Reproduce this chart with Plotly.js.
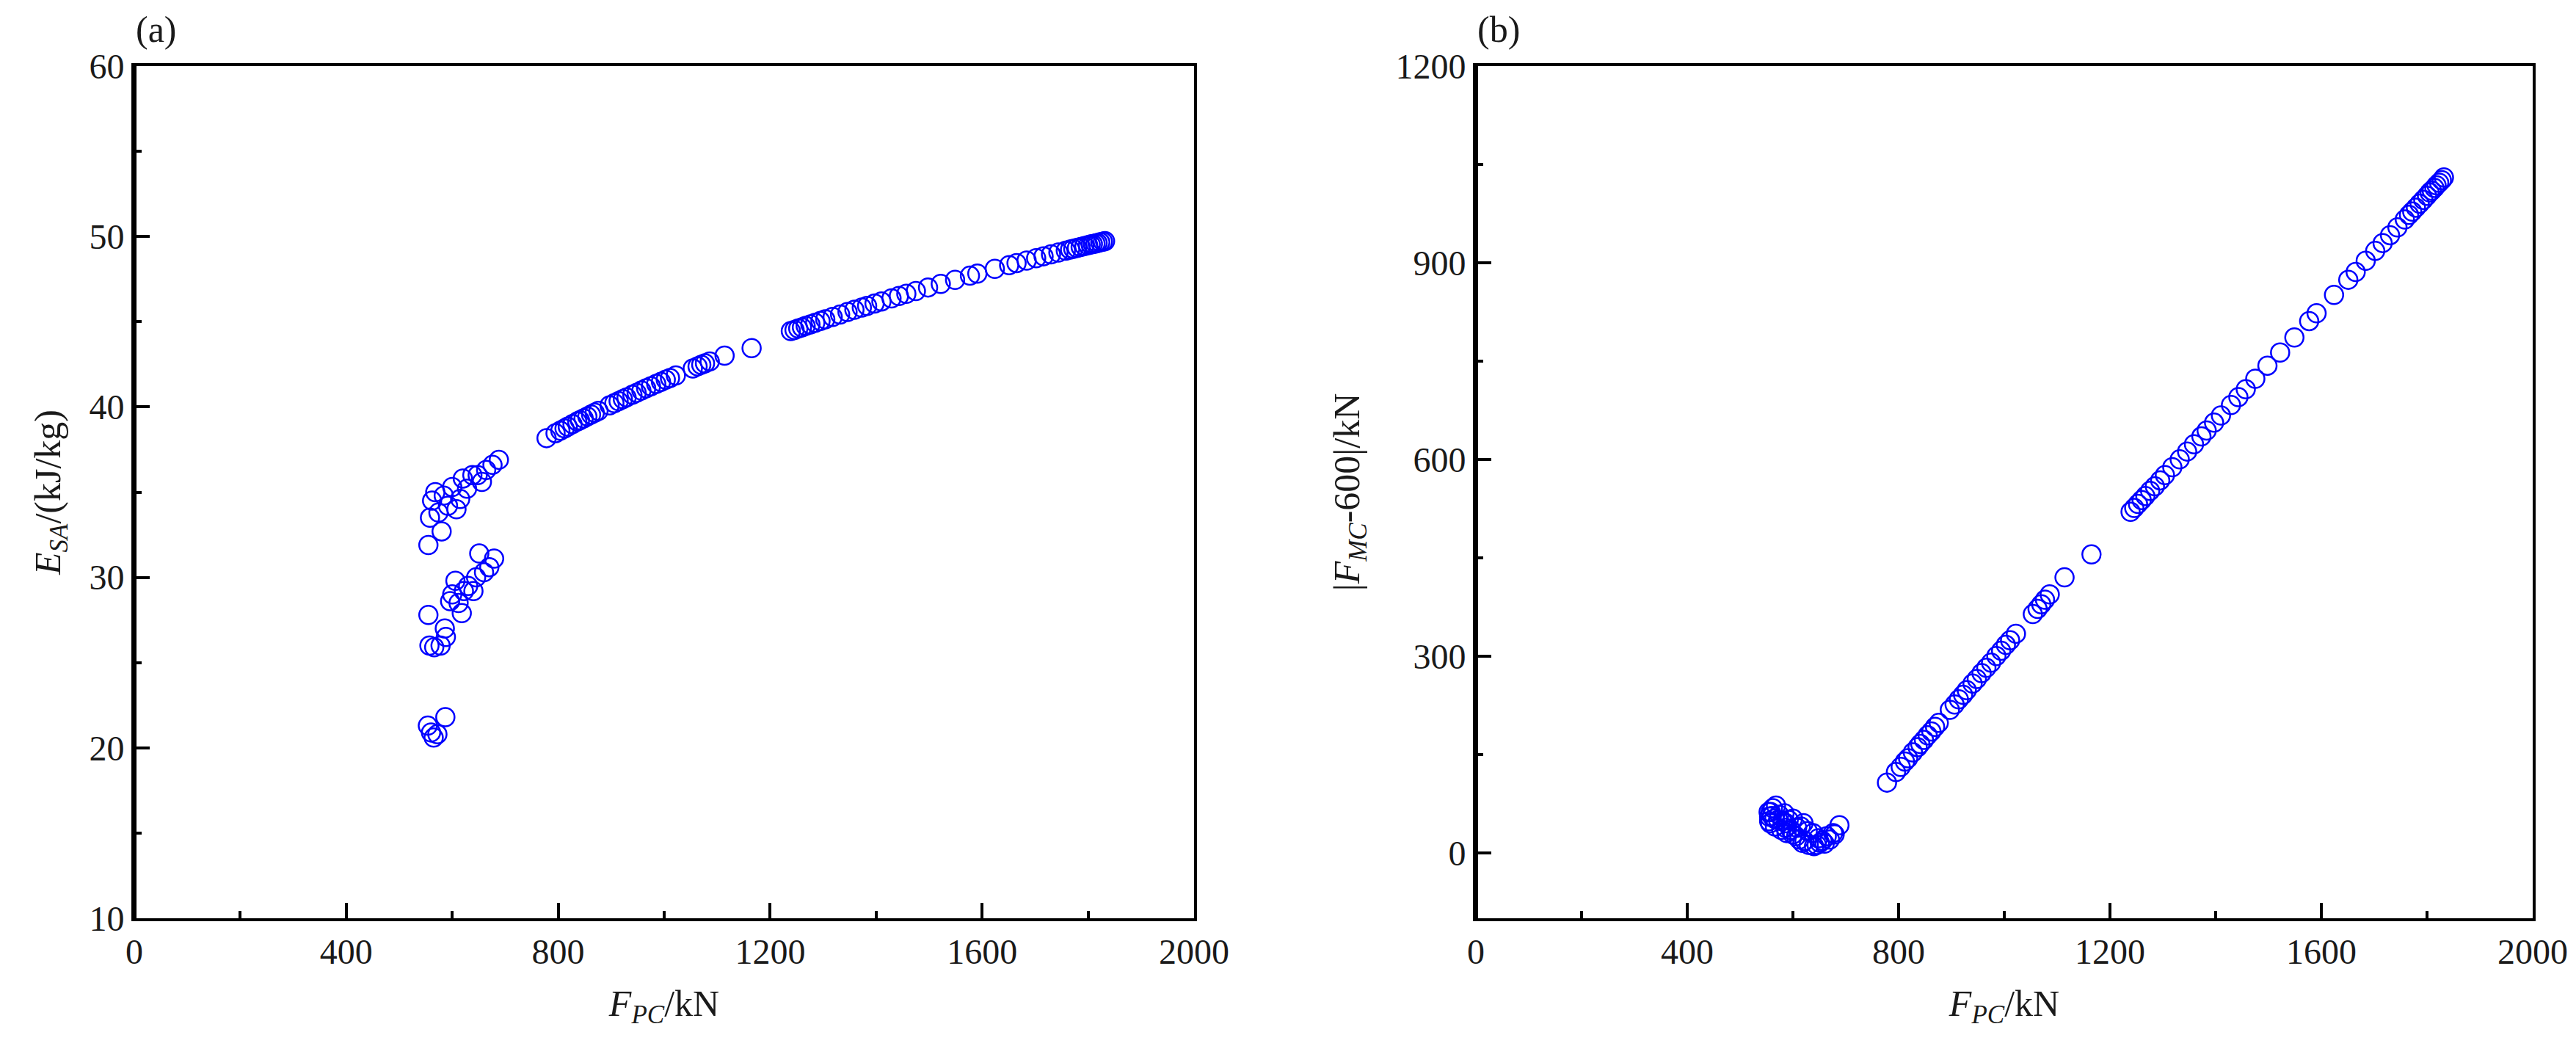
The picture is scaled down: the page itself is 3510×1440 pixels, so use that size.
<!DOCTYPE html>
<html>
<head>
<meta charset="utf-8">
<script src="https://cdn.plot.ly/plotly-3.0.1.min.js"></script>
<style>html,body{margin:0;padding:0;background:#fff;}</style>
</head>
<body>
<div id="chart" style="width:3510px;height:1440px;"></div>
<script>
// F_PC (kN) for every sample
const fpc = [
  555,558,562,568,574,580,584,592,600,608,615,620,628,638,648,656,664,676,688,
  555,557,566,578,586,588,596,600,606,612,618,622,630,640,645,651,660,670,679,
  554,560,565,572,587,
  778,795,804,812,818,827,836,841,848,855,862,869,876,897,906,914,922,929,940,948,
  957,966,975,985,994,1003,1011,1022,1054,1063,1070,1077,1086,1114,1165,
  1239,1246,1253,1260,1267,1276,1285,1295,1304,1318,1332,1346,1359,1373,1383,1397,
  1410,1429,1443,1457,1475,1498,1522,1549,1577,1591,1624,1651,1665,1684,1702,1716,
  1730,1744,1758,1766,1772,1779,1786,1793,1800,1805,1809,1814,1818,1823,1828,1832
];
// E_SA (kJ/kg), panel (a)
const esa = [
  31.9,33.5,34.5,35.0,33.8,32.7,34.8,34.2,35.3,34.0,34.6,35.8,35.2,36.0,36.0,35.6,36.3,36.6,36.9,
  27.8,26.0,25.9,26.0,27.0,26.5,28.6,29.0,29.8,28.5,27.9,29.2,29.5,29.2,30.0,31.4,30.3,30.6,31.1,
  21.3,20.9,20.6,20.8,21.8,
  38.17,38.46,38.61,38.74,38.84,38.99,39.14,39.22,39.33,39.44,39.55,39.66,39.77,40.09,40.22,40.34,40.46,40.56,40.72,40.83,
  40.96,41.09,41.21,41.35,41.47,41.60,41.70,41.85,42.26,42.38,42.47,42.56,42.67,43.01,43.45,
  44.45,44.52,44.60,44.67,44.75,44.84,44.94,45.04,45.14,45.28,45.42,45.57,45.70,45.83,45.93,46.07,
  46.19,46.37,46.51,46.64,46.80,47.01,47.22,47.46,47.70,47.82,48.10,48.32,48.44,48.59,48.73,48.84,
  48.95,49.06,49.17,49.23,49.28,49.33,49.38,49.44,49.49,49.53,49.56,49.59,49.62,49.66,49.70,49.73
];
// |F_MC - 600| (kN), panel (b)
const fmcDev = [
  55,62,68,72,58,48,60,50,52,38,40,45,33,30,22,18,25,30,42,
  48,45,40,35,38,30,35,28,25,20,15,18,12,10,12,15,14,20,28,
  62,56,52,50,45,
  107,123,131,139,144,153,161,166,172,179,185,192,198,218,226,234,241,248,258,265,
  274,282,290,300,308,317,324,334,364,372,379,386,394,420,455,
  520,526,532,538,544,552,559,568,576,588,600,612,623,635,644,656,
  667,683,695,707,723,743,763,786,811,823,851,874,886,903,918,930,
  942,954,966,973,978,984,990,996,1002,1007,1010,1014,1018,1022,1026,1030
];
const xTicksA = [0,400,800,1200,1600,2000];
const yTicksA = [10,20,30,40,50,60];
const yTicksB = [0,300,600,900,1200];

const FONT = '"Liberation Serif","Times New Roman",serif';
const marker = {symbol:'circle-open', size:25, color:'#0000ff', line:{width:2.5, color:'#0000ff'}};

const traces = [
  {type:'scatter', mode:'markers', x:fpc, y:esa, xaxis:'x', yaxis:'y', marker:marker, name:'(a)'},
  {type:'scatter', mode:'markers', x:fpc, y:fmcDev, xaxis:'x2', yaxis:'y2', marker:marker, name:'(b)'}
];

function axisBase(extra){
  return Object.assign({
    ticks:'inside', ticklen:21, tickwidth:4, tickcolor:'#000',
    showline:true, linewidth:4, linecolor:'#000', mirror:true,
    showgrid:false, zeroline:false,
    tickfont:{family:FONT, size:48, color:'#1a1a1a'}
  }, extra);
}
const minorOpt = (d)=>({dtick:d, ticks:'inside', ticklen:10, tickwidth:4, tickcolor:'#000', showgrid:false});

const layout = {
  width:3510, height:1440,
  margin:{l:183, r:59, t:90, b:189, pad:0},
  paper_bgcolor:'#fff', plot_bgcolor:'#fff',
  showlegend:false,
  font:{family:FONT, size:48, color:'#000'},
  xaxis: axisBase({domain:[0,0.44186], anchor:'y', range:[0,2000], tickvals:xTicksA,
    minor:minorOpt(200),
    title:{text:'<i>F</i><sub><i>PC</i></sub>/kN', font:{family:FONT, size:50, color:'#1a1a1a'}, standoff:28}}),
  yaxis: axisBase({domain:[0,1], anchor:'x', range:[10,60], tickvals:yTicksA,
    minor:minorOpt(5),
    title:{text:'<i>E</i><sub><i>SA</i></sub>/(kJ/kg)', font:{family:FONT, size:50, color:'#1a1a1a'}, standoff:24}}),
  xaxis2: axisBase({domain:[0.55936,1], anchor:'y2', range:[0,2000], tickvals:xTicksA,
    minor:minorOpt(200),
    title:{text:'<i>F</i><sub><i>PC</i></sub>/kN', font:{family:FONT, size:50, color:'#1a1a1a'}, standoff:28}}),
  yaxis2: axisBase({domain:[0,1], anchor:'x2', range:[-100,1200], tickvals:yTicksB,
    minor:minorOpt(150),
    title:{text:'|<i>F</i><sub><i>MC</i></sub>-600|/kN', font:{family:FONT, size:50, color:'#1a1a1a'}, standoff:34}}),
  shapes:[
    {type:'line', xref:'x domain', yref:'y domain', x0:0, x1:0, y0:0, y1:1, line:{color:'#000', width:6}},
    {type:'line', xref:'x2 domain', yref:'y2 domain', x0:0, x1:0, y0:0, y1:1, line:{color:'#000', width:6}}
  ],
  annotations:[
    {text:'(a)', xref:'x domain', yref:'y domain', x:0, y:1, xanchor:'left', yanchor:'bottom', yshift:20, showarrow:false, font:{family:FONT, size:50, color:'#1a1a1a'}},
    {text:'(b)', xref:'x2 domain', yref:'y2 domain', x:0, y:1, xanchor:'left', yanchor:'bottom', yshift:20, showarrow:false, font:{family:FONT, size:50, color:'#1a1a1a'}}
  ]
};

Plotly.newPlot('chart', traces, layout, {staticPlot:true, displayModeBar:false});
</script>
</body>
</html>
